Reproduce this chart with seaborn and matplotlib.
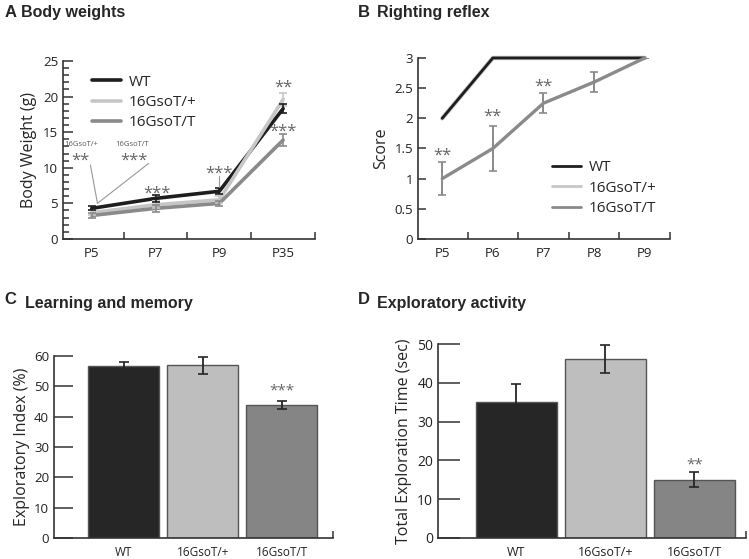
import numpy as np
import pandas as pd
import matplotlib.pyplot as plt
import seaborn as sns
from matplotlib.ticker import MultipleLocator

sns.set_style("white")
plt.rcParams['font.family'] = ['Open Sans', 'DejaVu Sans']

groups = ['WT', '16GsoT/+', '16GsoT/T']
palette = {'WT': '#1e1e1e', '16GsoT/+': '#c6c6c6', '16GsoT/T': '#8a8a8a'}
bar_colors = ['#262626', '#bebebe', '#858585']

# A - body weights
weight_days = ['P5', 'P7', 'P9', 'P35']
weight_wt = [4.3, 5.7, 6.7, 18.3]
weight_het = [3.7, 4.8, 5.5, 19.6]
weight_hom = [3.3, 4.3, 5.0, 13.9]
weight_wt_err = [0.3, 0.5, 0.4, 0.6]
weight_het_err = [0.3, 0.5, 0.5, 0.9]
weight_hom_err = [0.3, 0.5, 0.4, 0.8]

# B - righting reflex
reflex_days = ['P5', 'P6', 'P7', 'P8', 'P9']
reflex_wt = [2.0, 3.0, 3.0, 3.0, 3.0]
reflex_het = [2.0, 3.0, 3.0, 3.0, 3.0]
reflex_hom = [1.0, 1.5, 2.25, 2.6, 3.0]
reflex_hom_err = [0.27, 0.38, 0.17, 0.17, 0.0]

# C - learning and memory
index_vals = [56.6, 57.0, 43.7]
index_err = [1.4, 2.8, 1.3]

# D - exploratory activity
explore_vals = [35.0, 46.1, 15.0]
explore_err = [4.8, 3.7, 1.9]

fig = plt.figure(figsize=(7.49, 5.59), dpi=100)
axA = fig.add_axes([0.0841, 0.5725, 0.3365, 0.3184])
axB = fig.add_axes([0.558, 0.5725, 0.3365, 0.3238])
axC = fig.add_axes([0.0721, 0.0376, 0.3725, 0.3256])
axD = fig.add_axes([0.5848, 0.0376, 0.4112, 0.347])

spine_col = '#333333'
star_col = '#666666'


def style_axes(ax):
    sns.despine(ax=ax)
    for s in ['left', 'bottom']:
        ax.spines[s].set_color(spine_col)
        ax.spines[s].set_linewidth(1.2)
    ax.tick_params(axis='both', which='both', direction='in', color=spine_col,
                   width=1.1, labelcolor='#222222', bottom=True, left=True)


def long_df(days, series):
    rows = []
    for g, vals in zip(groups, series):
        for d, v in zip(days, vals):
            rows.append({'day': d, 'group': g, 'value': v})
    return pd.DataFrame(rows)


# ---- A
dfA = long_df(weight_days, [weight_wt, weight_het, weight_hom])
sns.lineplot(data=dfA, x='day', y='value', hue='group', hue_order=groups,
             palette=palette, linewidth=2.6, ax=axA, sort=False)
xs = np.arange(len(weight_days))
for vals, err, g in [(weight_het, weight_het_err, '16GsoT/+'),
                     (weight_hom, weight_hom_err, '16GsoT/T'),
                     (weight_wt, weight_wt_err, 'WT')]:
    axA.errorbar(xs, vals, yerr=err, fmt='none', ecolor=palette[g],
                 elinewidth=1.2, capsize=3, capthick=1.2)
style_axes(axA)
axA.set_xlim(-0.45, 3.5)
axA.set_ylim(0, 25)
axA.set_xticks(xs)
axA.set_xticklabels(weight_days)
axA.set_xticks([0.5, 1.5, 2.5, 3.5], minor=True)
axA.tick_params(axis='x', which='major', length=0, labelsize=9.5, pad=6)
axA.tick_params(axis='x', which='minor', length=5)
axA.yaxis.set_major_locator(MultipleLocator(5))
axA.yaxis.set_minor_locator(MultipleLocator(1))
axA.tick_params(axis='y', which='major', length=7, labelsize=9.5)
axA.tick_params(axis='y', which='minor', length=4)
axA.set_xlabel('')
axA.set_ylabel('Body Weight (g)', fontsize=11.5, labelpad=4)
sns.move_legend(axA, 'upper left', bbox_to_anchor=(0.06, 1.0), frameon=False,
                title=None, fontsize=11, handlelength=1.9, labelspacing=0.35,
                handletextpad=0.5)
axA.text(-0.17, 13.3, '16GsoT/+', fontsize=5.5, ha='center', va='center', color='#555555')
axA.text(0.64, 13.3, '16GsoT/T', fontsize=5.5, ha='center', va='center', color='#555555')
axA.text(-0.17, 11.0, '**', fontsize=12, ha='center', va='center', color=star_col)
axA.text(0.66, 11.0, '***', fontsize=12, ha='center', va='center', color=star_col)
axA.plot([-0.02, 0.09], [10.4, 5.0], color='#999999', lw=0.8)
axA.plot([0.89, 0.09], [10.6, 5.0], color='#999999', lw=0.8)
axA.text(1.03, 6.4, '***', fontsize=12, ha='center', va='center', color=star_col)
axA.text(2.0, 9.2, '***', fontsize=12, ha='center', va='center', color=star_col)
axA.plot([2.0, 2.0], [8.9, 7.3], color='#999999', lw=0.8)
axA.text(3.0, 21.3, '**', fontsize=12, ha='center', va='center', color=star_col)
axA.text(3.0, 15.1, '***', fontsize=12, ha='center', va='center', color=star_col)

# ---- B
dfB = long_df(reflex_days, [reflex_wt, reflex_het, reflex_hom])
sns.lineplot(data=dfB, x='day', y='value', hue='group', hue_order=groups,
             palette=palette, linewidth=2.0, ax=axB, sort=False)
lines = axB.get_lines()
lines[1].set_zorder(1)
lines[1].set_linewidth(3.2)
lines[2].set_linewidth(2.4)
for ln in lines[:3]:
    ln.set_clip_on(False)
xb = np.arange(len(reflex_days))
axB.errorbar(xb, reflex_hom, yerr=reflex_hom_err, fmt='none', ecolor=palette['16GsoT/T'],
             elinewidth=1.4, capsize=3, capthick=1.2)
style_axes(axB)
axB.set_xlim(-0.48, 4.5)
axB.set_ylim(0, 3)
axB.set_xticks(xb)
axB.set_xticklabels(reflex_days)
axB.set_xticks([0.5, 1.5, 2.5, 3.5, 4.5], minor=True)
axB.tick_params(axis='x', which='major', length=0, labelsize=9.5, pad=6)
axB.tick_params(axis='x', which='minor', length=5)
axB.set_yticks([0, 0.5, 1, 1.5, 2, 2.5, 3])
axB.set_yticklabels(['0', '0.5', '1', '1.5', '2', '2.5', '3'])
axB.tick_params(axis='y', which='major', length=6, labelsize=9.5)
axB.set_xlabel('')
axB.set_ylabel('Score', fontsize=11.5, labelpad=4)
sns.move_legend(axB, 'lower right', bbox_to_anchor=(1.0, 0.05), frameon=False,
                title=None, fontsize=11, handlelength=1.9, labelspacing=0.35,
                handletextpad=0.5)
for x, y in [(0, 1.38), (1, 2.03), (2, 2.53)]:
    axB.text(x, y, '**', fontsize=12, ha='center', va='center', color=star_col)

# ---- C
sns.barplot(x=groups, y=index_vals, hue=groups, palette=bar_colors, width=0.9,
            edgecolor='#555555', linewidth=1.0, legend=False, ax=axC)
axC.errorbar(range(3), index_vals, yerr=index_err, fmt='none', ecolor='#262626',
             elinewidth=1.3, capsize=3.5, capthick=1.2)
style_axes(axC)
axC.set_xlim(-0.88, 2.65)
axC.set_ylim(0, 60)
axC.set_xticks([2.65], minor=True)
axC.tick_params(axis='x', which='major', length=0, labelsize=8.5, pad=6)
axC.tick_params(axis='x', which='minor', length=5)
axC.yaxis.set_major_locator(MultipleLocator(10))
axC.tick_params(axis='y', which='major', length=14, labelsize=9.5)
axC.set_ylabel('Exploratory Index (%)', fontsize=11.5, labelpad=3)
axC.text(2, 48.3, '***', fontsize=11, ha='center', va='center', color=star_col)

# ---- D
sns.barplot(x=groups, y=explore_vals, hue=groups, palette=bar_colors, width=0.91,
            edgecolor='#555555', linewidth=1.0, legend=False, ax=axD)
axD.errorbar(range(3), explore_vals, yerr=explore_err, fmt='none', ecolor='#262626',
             elinewidth=1.3, capsize=3.5, capthick=1.2)
style_axes(axD)
axD.set_xlim(-0.88, 2.58)
axD.set_ylim(0, 50)
axD.set_xticks([2.58], minor=True)
axD.tick_params(axis='x', which='major', length=0, labelsize=9, pad=6)
axD.tick_params(axis='x', which='minor', length=5)
axD.yaxis.set_major_locator(MultipleLocator(10))
axD.tick_params(axis='y', which='major', length=16, labelsize=10)
axD.set_ylabel('Total Exploration Time (sec)', fontsize=11.5, labelpad=4)
axD.text(2, 18.8, '**', fontsize=11, ha='center', va='center', color=star_col)

# panel titles
title_kw = dict(fontsize=12, fontweight='bold', family='Liberation Sans', va='center')
fig.text(0.006, 0.978, 'A', **title_kw)
fig.text(0.028, 0.977, 'Body weights', **dict(title_kw, fontsize=11.5))
fig.text(0.478, 0.978, 'B', **title_kw)
fig.text(0.503, 0.977, 'Righting reflex', **dict(title_kw, fontsize=11.5))
fig.text(0.006, 0.465, 'C', **title_kw)
fig.text(0.034, 0.457, 'Learning and memory', **dict(title_kw, fontsize=11.5))
fig.text(0.478, 0.465, 'D', **title_kw)
fig.text(0.503, 0.457, 'Exploratory activity', **dict(title_kw, fontsize=11.5))

fig.savefig('out.png', dpi=100)
